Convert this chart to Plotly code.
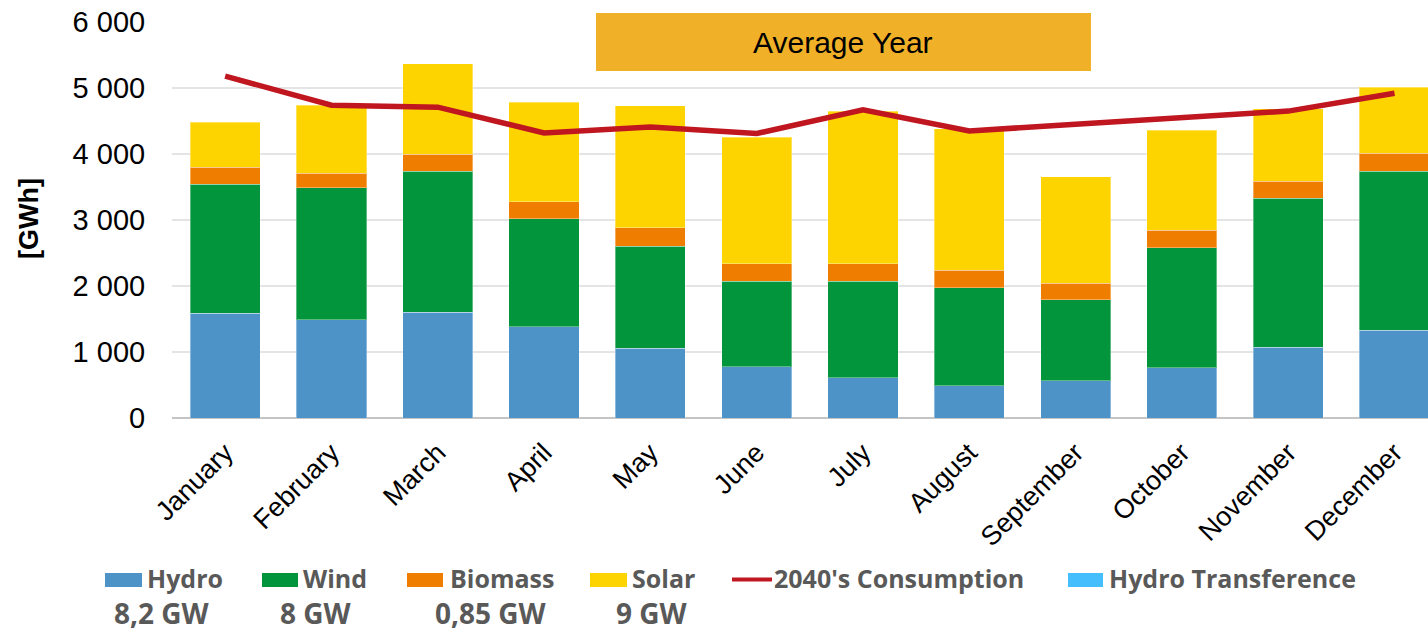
import plotly.graph_objects as go

# Monthly generation (GWh) by source for an average year
months = ["January", "February", "March", "April", "May", "June",
          "July", "August", "September", "October", "November", "December"]
hydro = [1590, 1485, 1606, 1385, 1056, 779, 612, 485, 567, 764, 1071, 1333]
wind = [1955, 2006, 2136, 1636, 1550, 1292, 1459, 1485, 1221, 1812, 2262, 2405]
biomass = [258, 221, 253, 252, 273, 268, 268, 268, 257, 272, 253, 273]
solar = [677, 1026, 1375, 1510, 1854, 1914, 2308, 2147, 1607, 1511, 1102, 1000]
consumption_2040 = [5180, 4740, 4710, 4320, 4410, 4310, 4670, 4350, 4450, 4550, 4650, 4920]

y_tick_values = [0, 1000, 2000, 3000, 4000, 5000, 6000]
y_tick_labels = ["0", "1 000", "2 000", "3 000", "4 000", "5 000", "6 000"]

legend_names = ["Hydro", "Wind", "Biomass", "Solar", "2040's Consumption", "Hydro Transference"]
capacity_labels = ["8,2 GW", "8 GW", "0,85 GW", "9 GW"]

C_HYDRO = "#4D93C8"
C_WIND = "#02953C"
C_BIO = "#EE7D00"
C_SOLAR = "#FED400"
C_CONS = "#C0161F"
C_TRANSF = "#45BEFD"
C_LEGEND_TEXT = "#595959"

W, H = 1428, 632
L, R, T, B = 172, 1428, 22, 418  # plot area in pixels


def fx(px):
    return (px - L) / (R - L)


def fy(py):
    return (B - py) / (B - T)


fig = go.Figure()
for name, vals, col in [("Hydro", hydro, C_HYDRO), ("Wind", wind, C_WIND),
                        ("Biomass", biomass, C_BIO), ("Solar", solar, C_SOLAR)]:
    fig.add_trace(go.Bar(
        x=months, y=vals, name=name, marker_color=col,
        marker_line=dict(color="rgba(255,255,255,0.35)", width=1),
        showlegend=False,
    ))

fig.add_trace(go.Scatter(
    x=months, y=consumption_2040, name="2040's Consumption", mode="lines",
    line=dict(color=C_CONS, width=5.5), showlegend=False,
))

shapes = []
annotations = []

# "Average Year" banner
shapes.append(dict(type="rect", xref="paper", yref="paper",
                   x0=fx(596), x1=fx(1091), y0=fy(71), y1=fy(13),
                   fillcolor="#F0B128", line=dict(width=0), layer="above"))
annotations.append(dict(text="Average Year", xref="paper", yref="paper",
                        x=fx(843), y=fy(42), xanchor="center", yanchor="middle",
                        showarrow=False,
                        font=dict(family="Liberation Sans, Arial", size=30, color="#000000")))

# y-axis title
annotations.append(dict(text="<b>[GWh]</b>", xref="paper", yref="paper",
                        x=fx(29), y=fy(219), xanchor="center", yanchor="middle",
                        textangle=-90, showarrow=False,
                        font=dict(family="Liberation Sans, Arial", size=27, color="#000000")))

# Legend drawn below the axis
legend_font = dict(family="Open Sans, Noto Sans", size=25, color=C_LEGEND_TEXT)
legend_items = [
    (legend_names[0], C_HYDRO, "box", 105, 142, 146),
    (legend_names[1], C_WIND, "box", 262, 298, 302),
    (legend_names[2], C_BIO, "box", 407, 443, 449),
    (legend_names[3], C_SOLAR, "box", 590, 627, 631),
    (legend_names[4], C_CONS, "line", 732, 772, 773),
    (legend_names[5], C_TRANSF, "box", 1068, 1103, 1108),
]
for name, col, kind, x0, x1, tx in legend_items:
    if kind == "box":
        shapes.append(dict(type="rect", xref="paper", yref="paper",
                           x0=fx(x0), x1=fx(x1), y0=fy(587), y1=fy(573),
                           fillcolor=col, line=dict(width=0)))
    else:
        shapes.append(dict(type="line", xref="paper", yref="paper",
                           x0=fx(x0), x1=fx(x1), y0=fy(579.5), y1=fy(579.5),
                           line=dict(color=col, width=4)))
    annotations.append(dict(text="<b>%s</b>" % name, xref="paper", yref="paper",
                            x=fx(tx), y=fy(578), xanchor="left", yanchor="middle",
                            showarrow=False, borderpad=0, font=legend_font))

# Installed capacities under the first four legend entries
for label, cx in zip(capacity_labels, [162, 316, 491, 652]):
    annotations.append(dict(text="<b>%s</b>" % label, xref="paper", yref="paper",
                            x=fx(cx), y=fy(613), xanchor="center", yanchor="middle",
                            showarrow=False, borderpad=0,
                            font=dict(family="Open Sans, Noto Sans", size=28,
                                      color=C_LEGEND_TEXT)))

fig.update_layout(
    width=W, height=H,
    margin=dict(l=L, r=W - R, t=T, b=H - B, pad=0),
    barmode="stack", bargap=0.34,
    plot_bgcolor="white", paper_bgcolor="white",
    shapes=shapes, annotations=annotations,
    showlegend=False,
    font=dict(family="Liberation Sans, Arial", color="#000000"),
)
fig.update_xaxes(
    range=[-0.5, 11.315], tickangle=-45,
    tickfont=dict(family="Liberation Sans, Arial", size=27, color="#000000"),
    showgrid=False, showline=False, zeroline=False,
    ticks="outside", ticklen=7, tickcolor="rgba(0,0,0,0)",
)
fig.update_yaxes(
    range=[0, 6000], tickvals=y_tick_values, ticktext=y_tick_labels,
    tickfont=dict(family="Liberation Sans, Arial", size=29, color="#000000"),
    showgrid=True, gridcolor="#E4E4E4", gridwidth=1.5,
    zeroline=True, zerolinecolor="#C4C4C4", zerolinewidth=2,
    ticks="outside", ticklen=20, tickcolor="rgba(0,0,0,0)",
)

fig.write_html("out.html")
